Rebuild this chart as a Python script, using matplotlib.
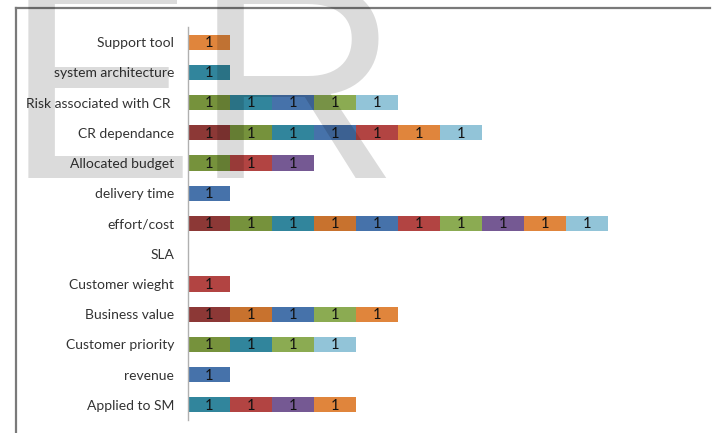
import matplotlib
matplotlib.use("Agg")
import matplotlib.pyplot as plt
from matplotlib.lines import Line2D
import numpy as np

# Categories, listed top to bottom as they appear on the chart
categories = [
    "Support tool", "system architecture", "Risk associated with CR ",
    "CR dependance", "Allocated budget", "delivery time", "effort/cost",
    "SLA", "Customer wieght", "Business value", "Customer priority",
    "revenue", "Applied to SM",
]

# One list per stacked series (0 = no segment for that category)
s1 = [0, 0, 0, 1, 0, 0, 1, 0, 0, 1, 0, 0, 0]
s2 = [0, 0, 1, 1, 1, 0, 1, 0, 0, 0, 1, 0, 0]
s3 = [0, 1, 1, 1, 0, 0, 1, 0, 0, 0, 1, 0, 1]
s4 = [0, 0, 0, 0, 0, 0, 1, 0, 0, 1, 0, 0, 0]
s5 = [0, 0, 1, 1, 0, 1, 1, 0, 0, 1, 0, 1, 0]
s6 = [0, 0, 0, 1, 1, 0, 1, 0, 1, 0, 0, 0, 1]
s7 = [0, 0, 1, 0, 0, 0, 1, 0, 0, 1, 1, 0, 0]
s8 = [0, 0, 0, 0, 1, 0, 1, 0, 0, 0, 0, 0, 1]
s9 = [1, 0, 0, 1, 0, 0, 1, 0, 0, 1, 0, 0, 1]
s10 = [0, 0, 1, 1, 0, 0, 1, 0, 0, 0, 1, 0, 0]

series = [s1, s2, s3, s4, s5, s6, s7, s8, s9, s10]
colors = ["#8C3836", "#76923C", "#31859C", "#C8722E", "#4672AA",
          "#B24442", "#8BAB52", "#755993", "#E0853C", "#92C4D8"]

W, H = 714, 433
fig = plt.figure(figsize=(W / 100, H / 100), dpi=100)
fig.patch.set_facecolor("white")

ax = fig.add_axes([188 / W, 1 - 420 / H, 504 / W, 393 / H])
y = np.arange(len(categories))
left = np.zeros(len(categories))
for vals, col in zip(series, colors):
    vals = np.array(vals, dtype=float)
    ax.barh(y, vals, left=left, height=0.5, color=col,
            edgecolor="none", zorder=2)
    for yi, v, l in zip(y, vals, left):
        if v > 0:
            ax.text(l + v / 2, yi + 0.03, f"{int(v)}", ha="center", va="center",
                    fontsize=10.5, color="#111111", family="Lato", zorder=3)
    left += vals

ax.set_xlim(0, 12)
ax.set_ylim(len(categories) - 0.5, -0.5)
ax.set_yticks(y)
ax.set_yticklabels(categories, family="Lato", fontsize=10, color="#333333")
ax.tick_params(axis="y", length=0, pad=10)
ax.set_xticks([])
for side in ("top", "right", "bottom"):
    ax.spines[side].set_visible(False)
ax.spines["left"].set_color("#b0b0b0")
ax.spines["left"].set_linewidth(1.0)

# Outer frame (top and left edges)
fig.add_artist(Line2D([16 / W, 710 / W], [1 - 8 / H, 1 - 8 / H],
                      transform=fig.transFigure, color="#7a7a7a", lw=1.6))
fig.add_artist(Line2D([16 / W, 16 / W], [1 - 8 / H, 0],
                      transform=fig.transFigure, color="#7a7a7a", lw=1.6))

# Watermark lettering
fig.text(5 / W, 1 - 178 / H, "ER", family="Liberation Sans", fontsize=205,
         color="black", alpha=0.14, ha="left", va="baseline", zorder=10)

fig.savefig("out.png", dpi=100)
